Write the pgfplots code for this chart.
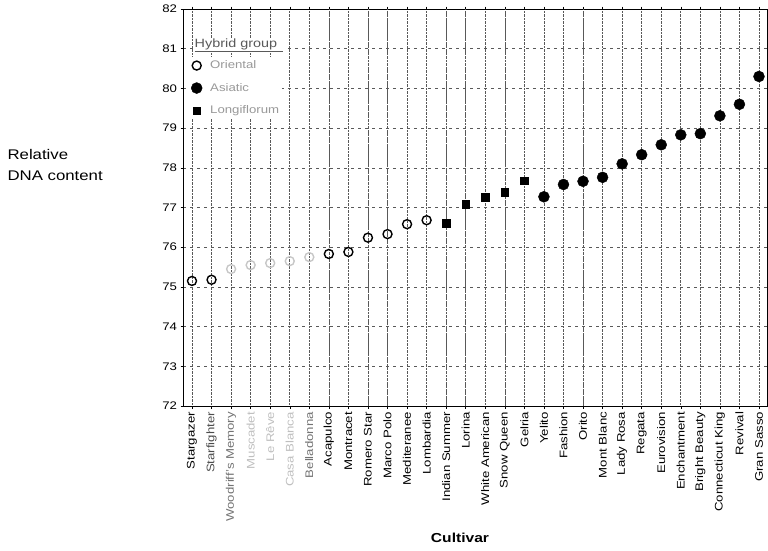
\documentclass[border=0pt]{standalone}
\usepackage{fontspec}
\setmainfont{Liberation Sans}[FakeStretch=1.2]
\usepackage{pgfplots}
\pgfplotsset{compat=1.18}

\begin{document}
\begin{tikzpicture}
\useasboundingbox (0,0) rectangle (768pt,550pt);
\begin{axis}[
  at={(183pt,144pt)}, anchor=south west,
  width=584pt, height=397pt, scale only axis,
  xmin=-0.46, xmax=29.41, ymin=72, ymax=82,
  xtick={0,...,29},
  xticklabels={Stargazer,\textcolor{black!70}{Starfighter},\textcolor{black!55}{Woodriff's Memory},
    \textcolor{black!25}{Muscadet},\textcolor{black!25}{Le R\^eve},\textcolor{black!25}{Casa Blanca},
    \textcolor{black!55}{Belladonna},Acapulco,Montracet,Romero Star,Marco Polo,Mediteranee,Lombardia,
    Indian Summer,Lorina,White American,Snow Queen,Gelria,Yelito,Fashion,Orito,Mont Blanc,
    Lady Rosa,Regata,Eurovision,Enchantment,Bright Beauty,Connecticut King,Revival,Gran Sasso},
  xticklabel style={rotate=90, anchor=east, font=\fontsize{11}{13}\selectfont},
  ytick={72,...,82},
  yticklabel style={font=\fontsize{11}{13}\selectfont},
  /pgf/number format/assume math mode=true,
  tick align=outside, major tick length=2.5pt,
  tick style={black, line width=0.5pt},
  xmajorgrids, ymajorgrids,
  x grid style={black!65, densely dotted, line width=0.6pt},
  y grid style={black!65, dash pattern=on 3pt off 4pt, line width=0.6pt},
  axis line style={line width=1pt},
  extra x ticks={7,9,10,13,14,16,20},
  extra x tick labels={},
  extra x tick style={major grid style={black!80, solid, line width=0.8pt}, major tick length=0pt},
  legend style={at={(axis description cs:0.012,0.88)}, anchor=north west,
    draw=none, fill=white, inner xsep=1pt, inner ysep=2pt,
    font=\fontsize{11}{13}\selectfont, text=black!40, row sep=9pt,
    cells={anchor=west},
    /tikz/every odd column/.append style={column sep=6pt}},
]
% Oriental hybrids
\addplot[only marks, mark=o, mark size=4.5pt, line width=1.4pt, black]
  coordinates {(0,75.15)(1,75.18)(7,75.83)(8,75.88)(9,76.24)(10,76.33)(11,76.58)(12,76.68)};
\addlegendentry{Oriental}
% Asiatic hybrids
\addplot[only marks, mark=*, mark size=5.5pt, black]
  coordinates {(18,77.27)(19,77.58)(20,77.66)(21,77.76)(22,78.10)(23,78.33)(24,78.58)
               (25,78.83)(26,78.86)(27,79.31)(28,79.60)(29,80.30)};
\addlegendentry{Asiatic}
% Longiflorum hybrids
\addplot[only marks, mark=square*, mark size=3.8pt, black]
  coordinates {(13,76.60)(14,77.09)(15,77.26)(16,77.38)(17,77.68)};
\addlegendentry{Longiflorum}
% Oriental hybrids printed faintly
\addplot[only marks, mark=o, mark size=4.5pt, line width=1.4pt, black!22, forget plot]
  coordinates {(2,75.45)(3,75.55)(4,75.60)(5,75.65)(6,75.75)};
\node[anchor=west, fill=white, inner sep=1pt, font=\fontsize{12}{14}\selectfont, text=black!65]
  at (axis description cs:0.018,0.908) {\underline{Hybrid group\hspace{6pt}}};
\end{axis}
\node[anchor=west, align=left, font=\fontsize{14}{21}\selectfont] at (4pt,385pt)
  {Relative\\DNA content};
\node[font=\bfseries\fontsize{13}{15}\selectfont] at (460pt,12pt) {Cultivar};
\end{tikzpicture}
\end{document}
